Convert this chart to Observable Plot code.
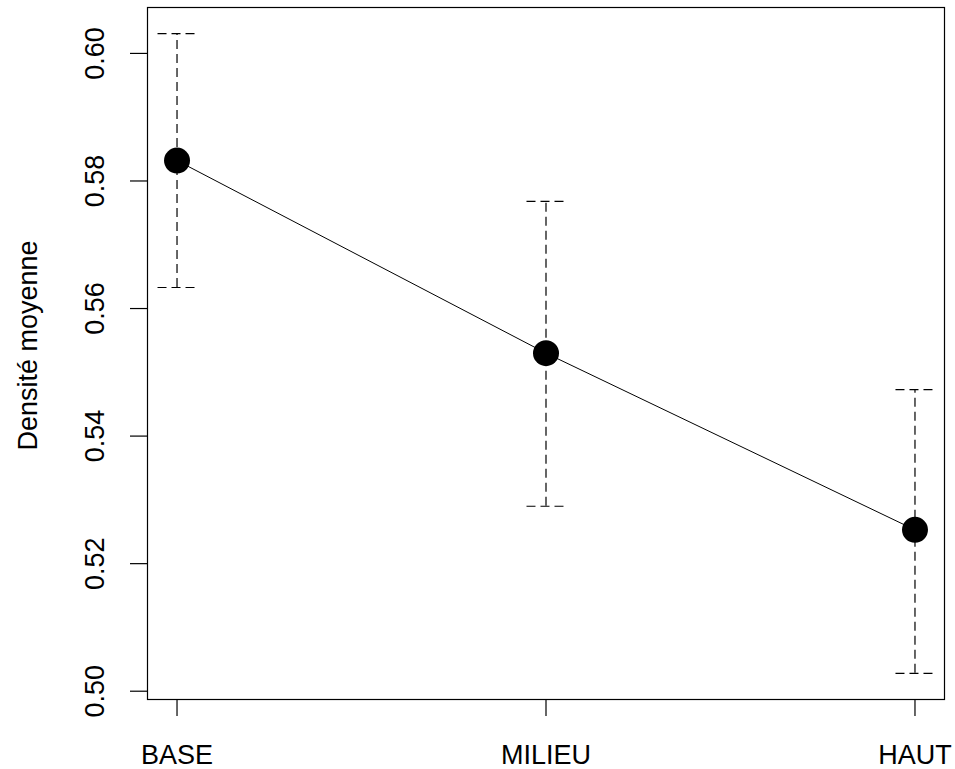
<!DOCTYPE html>
<html>
<head>
<meta charset="utf-8">
<script src="https://cdn.jsdelivr.net/npm/d3@7"></script>
<script src="https://cdn.jsdelivr.net/npm/@observablehq/plot@0.6"></script>
<style>
  html, body { margin: 0; padding: 0; background: #fff; }
  #chart svg { display: block; }
</style>
</head>
<body>
<div id="chart"></div>
<script>
const categories = ["BASE", "MILIEU", "HAUT"];
const means = [0.5832, 0.5530, 0.5253];
const upper = [0.6031, 0.5768, 0.5473];
const lower = [0.5633, 0.5290, 0.5028];
const yTicks = [0.50, 0.52, 0.54, 0.56, 0.58, 0.60];
const yLabel = "Densité moyenne";

const data = categories.map((c, i) => ({cat: c, i: i + 1, mean: means[i], hi: upper[i], lo: lower[i]}));
const capHalf = 0.0515;
const font = "'Liberation Sans', Arial, sans-serif";
const dash = "9,5";

const chart = Plot.plot({
  width: 955,
  height: 769,
  marginLeft: 147,
  marginRight: 11,
  marginTop: 7,
  marginBottom: 70,
  style: {fontFamily: font, background: "#fff", color: "#000"},
  x: {type: "linear", domain: [0.92, 3.08]},
  y: {type: "linear", domain: [0.4987, 0.6072]},
  marks: [
    Plot.frame({stroke: "#000", strokeWidth: 1.2}),
    Plot.axisY({ticks: yTicks, tickSize: 17, tickFormat: () => "", label: null, strokeWidth: 1.2}),
    Plot.axisX({ticks: data.map(d => d.i), tickSize: 17, tickFormat: () => "", label: null, strokeWidth: 1.2}),
    Plot.text(yTicks, {y: d => d, text: d => d.toFixed(2), frameAnchor: "left", dx: -52, rotate: -90,
      textAnchor: "middle", lineAnchor: "middle", fontSize: 27, fill: "#000"}),
    Plot.text(data, {x: "i", text: "cat", frameAnchor: "bottom", dy: 45, lineAnchor: "top",
      textAnchor: "middle", fontSize: 27, fill: "#000"}),
    Plot.text([yLabel], {text: d => d, frameAnchor: "left", dx: -119, dy: -8, rotate: -90,
      textAnchor: "middle", lineAnchor: "middle", fontSize: 27, fill: "#000"}),
    Plot.ruleX(data, {x: "i", y1: "lo", y2: "hi", stroke: "#000", strokeWidth: 1.2, strokeDasharray: dash}),
    Plot.ruleY(data, {y: "hi", x1: d => d.i - capHalf, x2: d => d.i + capHalf, stroke: "#000", strokeWidth: 1.2, strokeDasharray: dash}),
    Plot.ruleY(data, {y: "lo", x1: d => d.i - capHalf, x2: d => d.i + capHalf, stroke: "#000", strokeWidth: 1.2, strokeDasharray: dash}),
    Plot.line(data, {x: "i", y: "mean", stroke: "#000", strokeWidth: 1}),
    Plot.dot(data, {x: "i", y: "mean", r: 13, fill: "#000", stroke: "none"})
  ]
});
document.getElementById("chart").appendChild(chart);
</script>
</body>
</html>
